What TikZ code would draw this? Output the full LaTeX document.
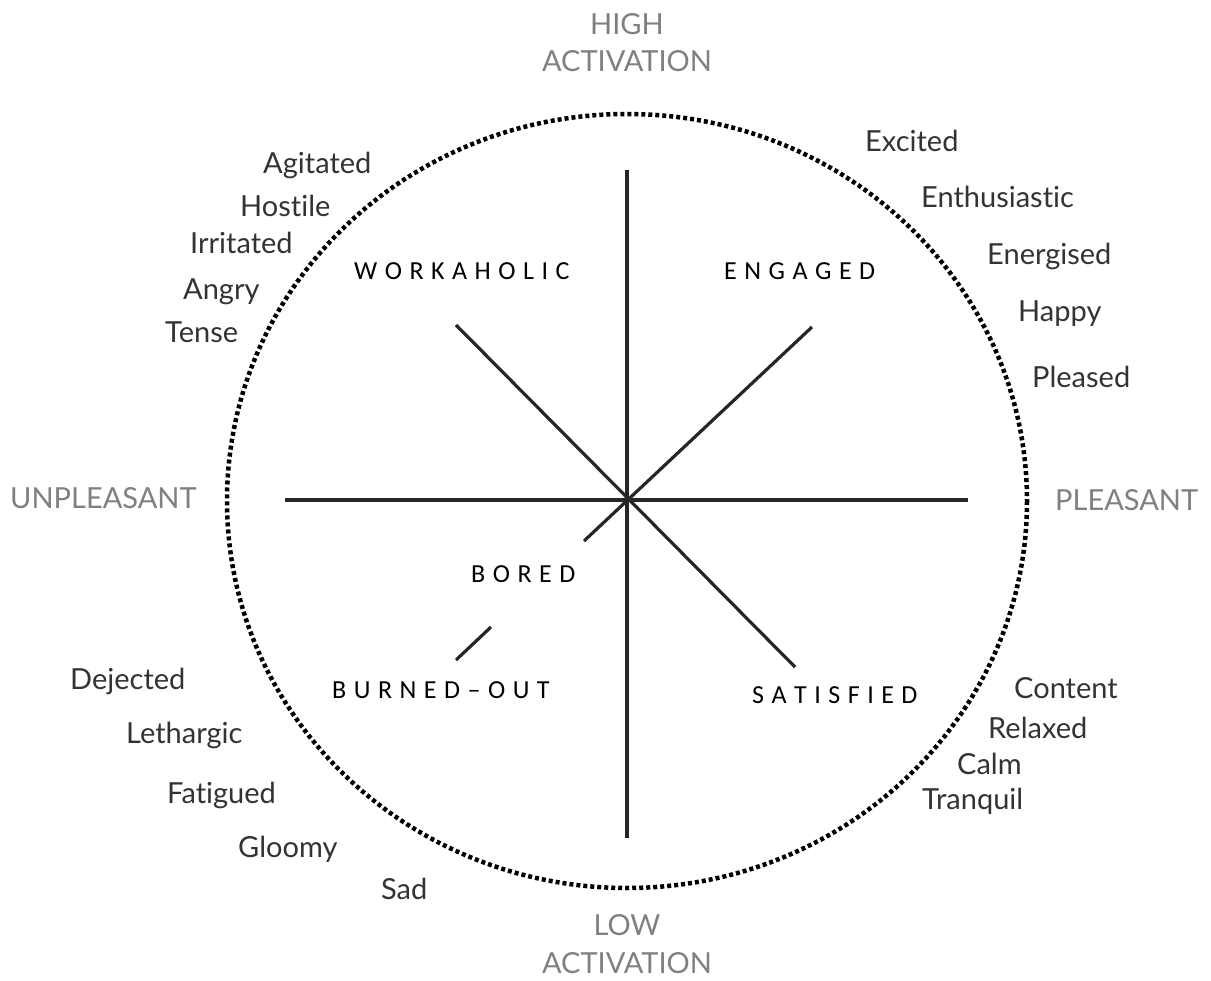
\documentclass[tikz,border=0pt]{standalone}
\usepackage{fontspec}
\setmainfont{Lato}[Ligatures={NoCommon}]
\newfontfamily\quadfont{Carlito}
\begin{document}
\begin{tikzpicture}[x=1pt,y=-1pt,
  axislabel/.style={font=\fontsize{29}{32}\selectfont, text=black!50, inner sep=0pt, anchor=base},
  mood/.style={font=\fontsize{29}{32}\selectfont, text=black!80, inner sep=0pt, anchor=base west},
  quad/.style={font={\quadfont\fontsize{26}{30}\selectfont\spaceskip=7.5pt\relax}, text=black, inner sep=0pt, anchor=base west},
  axis/.style={line width=4.5pt, draw=black!85},
  diag/.style={line width=3.2pt, draw=black!85},
  rim/.style={line width=4.5pt, dash pattern=on 4pt off 3pt, draw=black}
]
\useasboundingbox (0,0) rectangle (1211,981);
% circle
\coordinate (c) at (627,501);
\draw[rim] (c) ellipse [x radius=400, y radius=387];
% axes
\coordinate (top) at (627,170);
\coordinate (bot) at (627,838);
\coordinate (lft) at (285,500);
\coordinate (rgt) at (968,500);
\coordinate (nw) at (456,325);
\coordinate (se) at (795,667);
\coordinate (ne) at (812,327);
\coordinate (sw1) at (584,541);
\coordinate (sw2) at (491,627);
\coordinate (sw3) at (456,660);
\draw[axis] (top) -- (bot);
\draw[axis] (lft) -- (rgt);
\draw[diag] (nw) -- (se);
\draw[diag] (ne) -- (sw1);
\draw[diag] (sw2) -- (sw3);
% axis labels
\node[axislabel] (high) at (627,35) {HIGH};
\node[axislabel] (hact) at (627,72) {ACTIVATION};
\node[axislabel] (low) at (627,935) {LOW};
\node[axislabel] (lact) at (627,973) {ACTIVATION};
\node[axislabel, anchor=base west] (unp) at (10,508) {UNPLEASANT};
\node[axislabel, anchor=base west] (ple) at (1055,511) {PLEASANT};
% moods
\node[mood] (excited) at (865,152) {Excited};
\node[mood] (enth) at (921,208) {Enthusiastic};
\node[mood] (energ) at (987,265) {Energised};
\node[mood] (happy) at (1018,322) {Happy};
\node[mood] (pleased) at (1032,388) {Pleased};
\node[mood] (agit) at (263,174) {Agitated};
\node[mood] (host) at (240,217) {Hostile};
\node[mood] (irr) at (190,254) {Irritated};
\node[mood] (angry) at (183,300) {Angry};
\node[mood] (tense) at (165,343) {Tense};
\node[mood] (dej) at (70,689) {Dejected};
\node[mood] (leth) at (126,743) {Lethargic};
\node[mood] (fat) at (167,803) {Fatigued};
\node[mood] (gloomy) at (238,857) {Gloomy};
\node[mood] (sad) at (381,899) {Sad};
\node[mood] (content) at (1014,698) {Content};
\node[mood] (relaxed) at (988,738) {Relaxed};
\node[mood] (calm) at (957,774) {Calm};
\node[mood] (tranq) at (922,809) {Tranquil};
% quadrant labels
\node[quad] (work) at (354,280) {W O R K A H O L I C};
\node[quad] (eng) at (724,280) {E N G A G E D};
\node[quad] (bored) at (471,582) {B O R E D};
\node[quad] (burn) at (332,698) {B U R N E D – O U T};
\node[quad] (sat) at (752,703) {S A T I S F I E D};
\end{tikzpicture}
\end{document}
